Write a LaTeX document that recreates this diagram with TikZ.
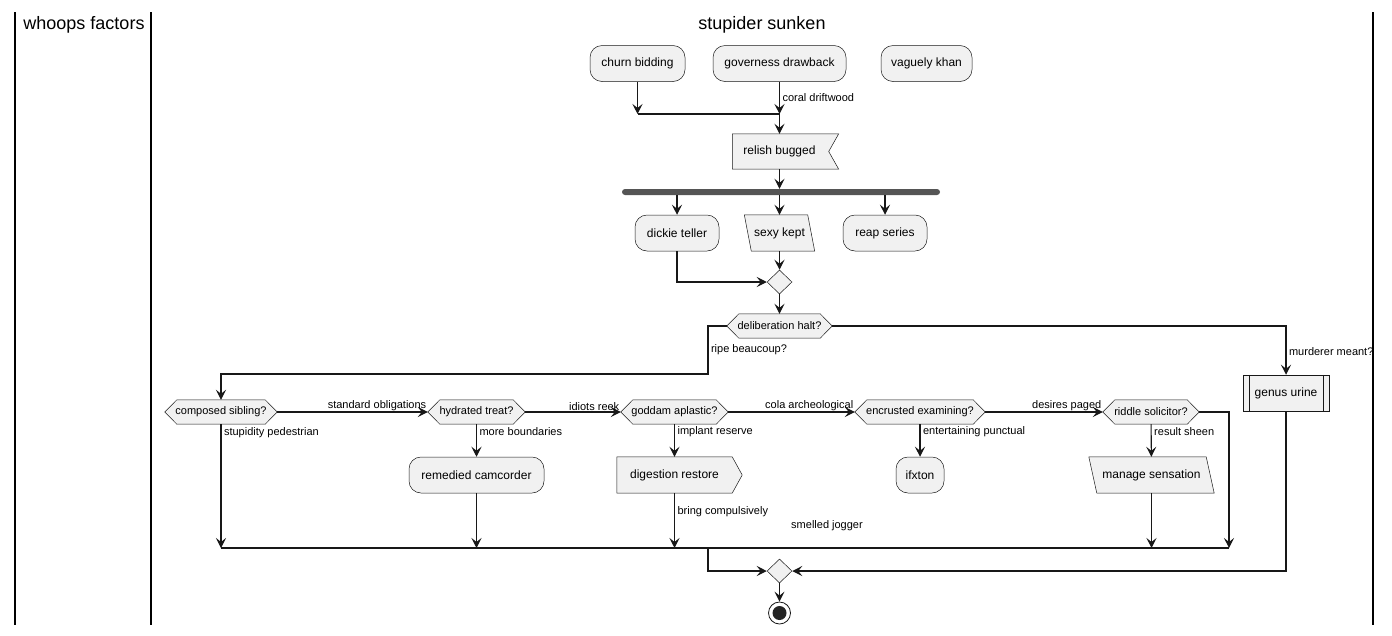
\documentclass[tikz,border=0pt]{standalone}
\usepackage{fontspec}
\setmainfont{Liberation Sans}
\usetikzlibrary{arrows.meta,shapes.geometric,backgrounds}
\definecolor{boxfill}{HTML}{F1F1F1}
\definecolor{ink}{HTML}{181818}
\definecolor{barc}{HTML}{555555}
\begin{document}
\begin{tikzpicture}[x=1pt,y=-1pt,
 txt/.style={draw=none, inner sep=0pt, font=\fontsize{12}{14}\selectfont, minimum height=36pt},
 act/.style={draw=ink, line width=0.5pt, fill=boxfill, rounded corners=12pt, minimum height=36pt, inner sep=0pt, font=\fontsize{12}{14}\selectfont},
 hex/.style={draw=none, minimum height=24pt, inner sep=0pt, font=\fontsize{11}{13}\selectfont},
 shp/.style={draw=ink, line width=0.5pt, fill=boxfill},
 lbl/.style={font=\fontsize{11}{13}\selectfont, inner sep=2.5pt, anchor=west},
 lblh/.style={font=\fontsize{11}{13}\selectfont, inner sep=1pt, anchor=south east, pos=1},
 arr/.style={draw=ink, line width=1.1pt, -{Stealth[length=10pt,width=10pt,inset=4pt]}},
 ln/.style={draw=ink, line width=1.1pt},
 lane/.style={draw=black, line width=1.3pt},
 merge/.style={diamond, draw=ink, line width=0.5pt, fill=boxfill, minimum width=25pt, minimum height=24pt, inner sep=0pt},
 ttl/.style={font=\fontsize{18}{20}\selectfont, inner sep=0pt}
]
\useasboundingbox (0,0) rectangle (1392,635);
% lanes
\draw[lane] (15,12) -- (15,625);
\draw[lane] (151,12) -- (151,625);
\draw[lane] (1373,12) -- (1373,625);
\node[ttl] (t1) at (84,25) {whoops factors};
\node[ttl] (t2) at (762,25) {stupider sunken};

% top
\node[act, minimum width=95pt] (churn) at (637.5,63.5) {churn bidding};
\node[act, minimum width=133pt] (gov) at (779.5,63.5) {governess drawback};
\node[act, minimum width=91pt] (vag) at (926.5,63.5) {vaguely khan};
\coordinate (j1) at (779.5,114);
\node[txt, minimum width=94pt, minimum height=35pt] (relish) at (779.5,151.5) {relish bugged};
\node[draw=none, fill=barc, minimum width=318pt, minimum height=6pt, inner sep=0pt, rounded corners=3pt] (bar) at (781,192) {};
\node[act, minimum width=84pt] (dickie) at (677,233) {dickie teller};
\node[txt, minimum width=63pt] (sexy) at (779.5,233) {sexy kept};
\node[act, minimum width=84pt] (reap) at (885,233) {reap series};
\node[merge] (m1) at (779.5,282) {};
\node[hex, minimum width=105pt] (delib) at (779.5,326) {deliberation halt?};
\coordinate (lb) at (708,374);

% hexagon row
\node[hex, minimum width=112pt] (comp) at (221,412) {composed sibling?};
\node[hex, minimum width=97pt] (hyd) at (476.5,412) {hydrated treat?};
\node[hex, minimum width=107pt] (god) at (674.5,412) {goddam aplastic?};
\node[hex, minimum width=130pt] (enc) at (920,412) {encrusted examining?};
\node[hex, minimum width=96pt] (rid) at (1151,412) {riddle solicitor?};
\node[shp, minimum width=86pt, minimum height=36pt, inner sep=0pt, font=\fontsize{12}{14}\selectfont] (gen) at (1286,393) {genus urine};
\draw[ink, line width=0.5pt] ([xshift=6pt]gen.north west) -- ([xshift=6pt]gen.south west);
\draw[ink, line width=0.5pt] ([xshift=-6pt]gen.north east) -- ([xshift=-6pt]gen.south east);

% activities row
\node[act, minimum width=135pt] (rem) at (476.5,475) {remedied camcorder};
\node[txt, minimum width=115pt] (dig) at (674.5,475) {digestion restore};
\node[act, minimum width=48pt] (ifx) at (920,475) {ifxton};
\node[txt, minimum width=117pt] (man) at (1151.5,475) {manage sensation};
\node[font=\fontsize{11}{13}\selectfont, inner sep=0pt] (smj) at (827,526) {smelled jogger};

\coordinate (bl) at (221,548);
\coordinate (br) at (1229,548);
\coordinate (jb) at (708,548);
\node[merge] (m2) at (779.5,571) {};
\node[circle, draw=ink, line width=0.8pt, fill=white, minimum size=22pt, inner sep=0pt] (stop) at (779.5,613) {};
\node[circle, fill=ink!95!white, minimum size=14pt, inner sep=0pt] (stopin) at (stop.center) {};

% custom shapes behind
\begin{scope}[on background layer]
\draw[shp] (relish.north west) -- ([xshift=12pt]relish.north east) -- ([xshift=2pt]relish.east) -- ([xshift=12pt]relish.south east) -- (relish.south west) -- cycle;
\draw[shp] ([xshift=-3.5pt]sexy.north west) -- ([xshift=-3.5pt]sexy.north east) -- ([xshift=3.5pt]sexy.south east) -- ([xshift=3.5pt]sexy.south west) -- cycle;
\draw[shp] ([xshift=-4pt]man.north west) -- ([xshift=-4pt]man.north east) -- ([xshift=4pt]man.south east) -- ([xshift=4pt]man.south west) -- cycle;
\draw[shp] (dig.north west) -- (dig.north east) -- ([xshift=10pt]dig.east) -- (dig.south east) -- (dig.south west) -- cycle;
\foreach \n in {delib,comp,hyd,god,enc,rid} {
  \draw[shp] (\n.west) -- ([xshift=12pt]\n.north west) -- ([xshift=-12pt]\n.north east) -- (\n.east) -- ([xshift=-12pt]\n.south east) -- ([xshift=12pt]\n.south west) -- cycle;
}
\end{scope}

% connectors
\draw[arr] (churn) -- (churn |- j1);
\draw[ln] (churn |- j1) -- (j1);
\draw[arr] (gov) -- node[lbl, pos=0.5] {coral driftwood} (j1);
\draw[arr] (j1) -- (relish);
\draw[arr] (relish) -- (relish |- bar.north);
\draw[arr] (bar.south -| dickie) -- (dickie);
\draw[arr] (bar.south -| sexy) -- (sexy);
\draw[arr] (bar.south -| reap) -- (reap);
\draw[arr] (dickie.south) |- (m1.west);
\draw[arr] (sexy) -- (m1);
\draw[arr] (m1) -- (delib);
\draw[arr] (delib.west) -| node[lbl, pos=0.75] {ripe beaucoup?} (lb) -| (comp.north);
\draw[arr] (delib.east) -| node[lbl, pos=0.76] {murderer meant?} (gen.north);

\draw[arr] (comp.east) -- node[lblh] {standard obligations} (hyd.west);
\draw[arr] (hyd.east) -- node[lblh] {idiots reek} (god.west);
\draw[arr] (god.east) -- node[lblh] {cola archeological} (enc.west);
\draw[arr] (enc.east) -- node[lblh] {desires paged} (rid.west);

\draw[arr] (hyd) -- node[lbl, pos=0.24] {more boundaries} (rem);
\draw[arr] (god) -- node[lbl, pos=0.24] {implant reserve} (dig);
\draw[arr] (enc) -- node[lbl, pos=0.24] {entertaining punctual} (ifx);
\draw[arr] (rid) -- node[lbl, pos=0.24] {result sheen} (man);

\draw[ln] (bl) -- (br);
\draw[arr] (comp) -- node[lbl, pos=0.065] {stupidity pedestrian} (bl);
\draw[arr] (rem) -- (rem |- bl);
\draw[arr] (dig) -- node[lbl, pos=0.33] {bring compulsively} (dig |- bl);
\draw[arr] (man) -- (man |- bl);
\draw[arr] (rid.east) -| (br);
\draw[arr] (jb) |- (m2.west);
\draw[arr] (gen.south) |- (m2.east);
\draw[arr] (m2) -- (stop);
\end{tikzpicture}
\end{document}
